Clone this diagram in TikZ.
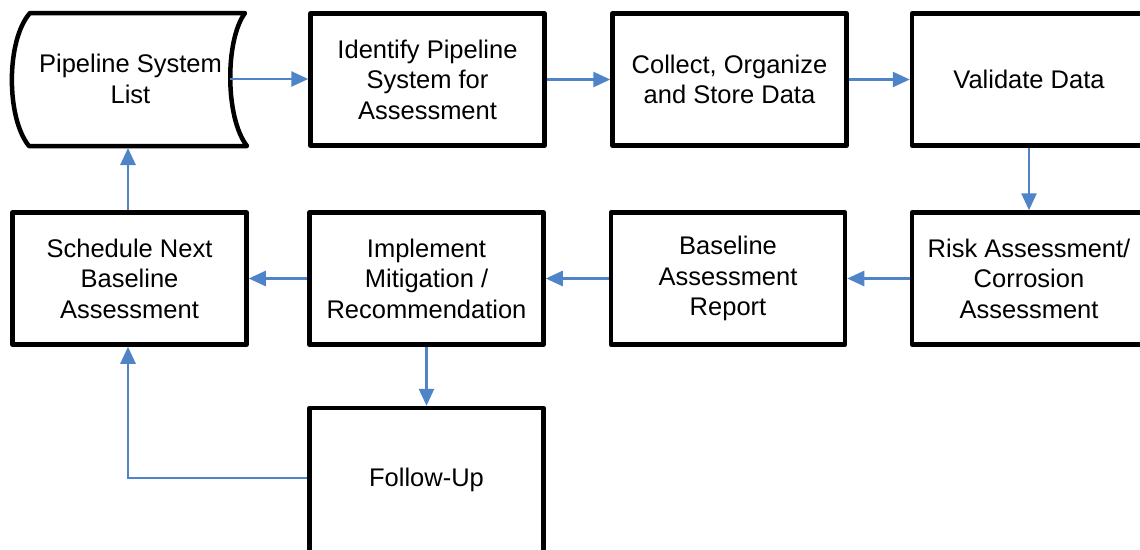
\documentclass[tikz,border=0pt]{standalone}
\usepackage{fontspec}
\setmainfont{Liberation Sans}
\usetikzlibrary{arrows.meta}
\definecolor{flowblue}{RGB}{79,132,200}
\tikzset{
  x=1pt, y=-1pt,
  txt/.style={font=\fontsize{25.5}{30.5}\selectfont, align=center, inner sep=0pt},
  procbox/.style={txt, draw=black, line width=4.5pt, line join=round,
    minimum width=234pt, minimum height=132pt, fill=white},
  flow/.style={draw=flowblue, line width=2.6pt,
    -{Triangle[length=17pt,width=15pt]}},
}
\begin{document}
\begin{tikzpicture}
\useasboundingbox (0,0) rectangle (1140,549);
\clip (0,0) rectangle (1140,549);
\fill[white] (0,0) rectangle (1140,549);

% stored-data shape
\draw[line width=4.5pt, line join=round, fill=white]
  (30,13) -- (245,13) .. controls (225,40) and (225,118) .. (247,146)
  -- (29,146) .. controls (6,118) and (6,40) .. (30,13) -- cycle;
\node[txt] (list) at (130.5,79) {Pipeline System\\List};
\coordinate (listout) at (229.5,79);
\coordinate (listin) at (128,148);

% top row
\node[procbox] (ident) at (427.5,79.5) {Identify Pipeline\\System for\\Assessment};
\node[procbox] (collect) at (729.5,79.5) {Collect, Organize\\and Store Data};
\node[procbox] (valid) at (1029,79.5) {Validate Data};

% middle row
\node[procbox] (sched) at (129.5,278.5) {Schedule Next\\Baseline\\Assessment};
\node[procbox] (impl) at (426.5,278.5) {Implement\\Mitigation /\\Recommendation};
\node[procbox] (report) at (728,278.5) {Baseline\\Assessment\\Report};
\node[procbox] (risk) at (1029,278.5) {Risk Assessment/\\Corrosion\\Assessment};

% bottom row
\node[procbox, minimum height=144pt] (follow) at (426.5,480) {\raisebox{2pt}{Follow-Up}};

% connectors
\draw[flow] (listout) -- (ident.west |- listout);
\draw[flow] (ident.east) -- (collect.west);
\draw[flow] (collect.east) -- (valid.west);
\draw[flow] (valid.south) -- (risk.north);
\draw[flow] (risk.west) -- (report.east);
\draw[flow] (report.west) -- (impl.east);
\draw[flow] (impl.west) -- (sched.west -| sched.east);
\draw[flow] (sched.north -| listin) -- (listin);
\draw[flow] (impl.south) -- (follow.north);
\draw[flow] ([yshift=2pt]follow.west) -| (sched.south -| listin);
\end{tikzpicture}
\end{document}
